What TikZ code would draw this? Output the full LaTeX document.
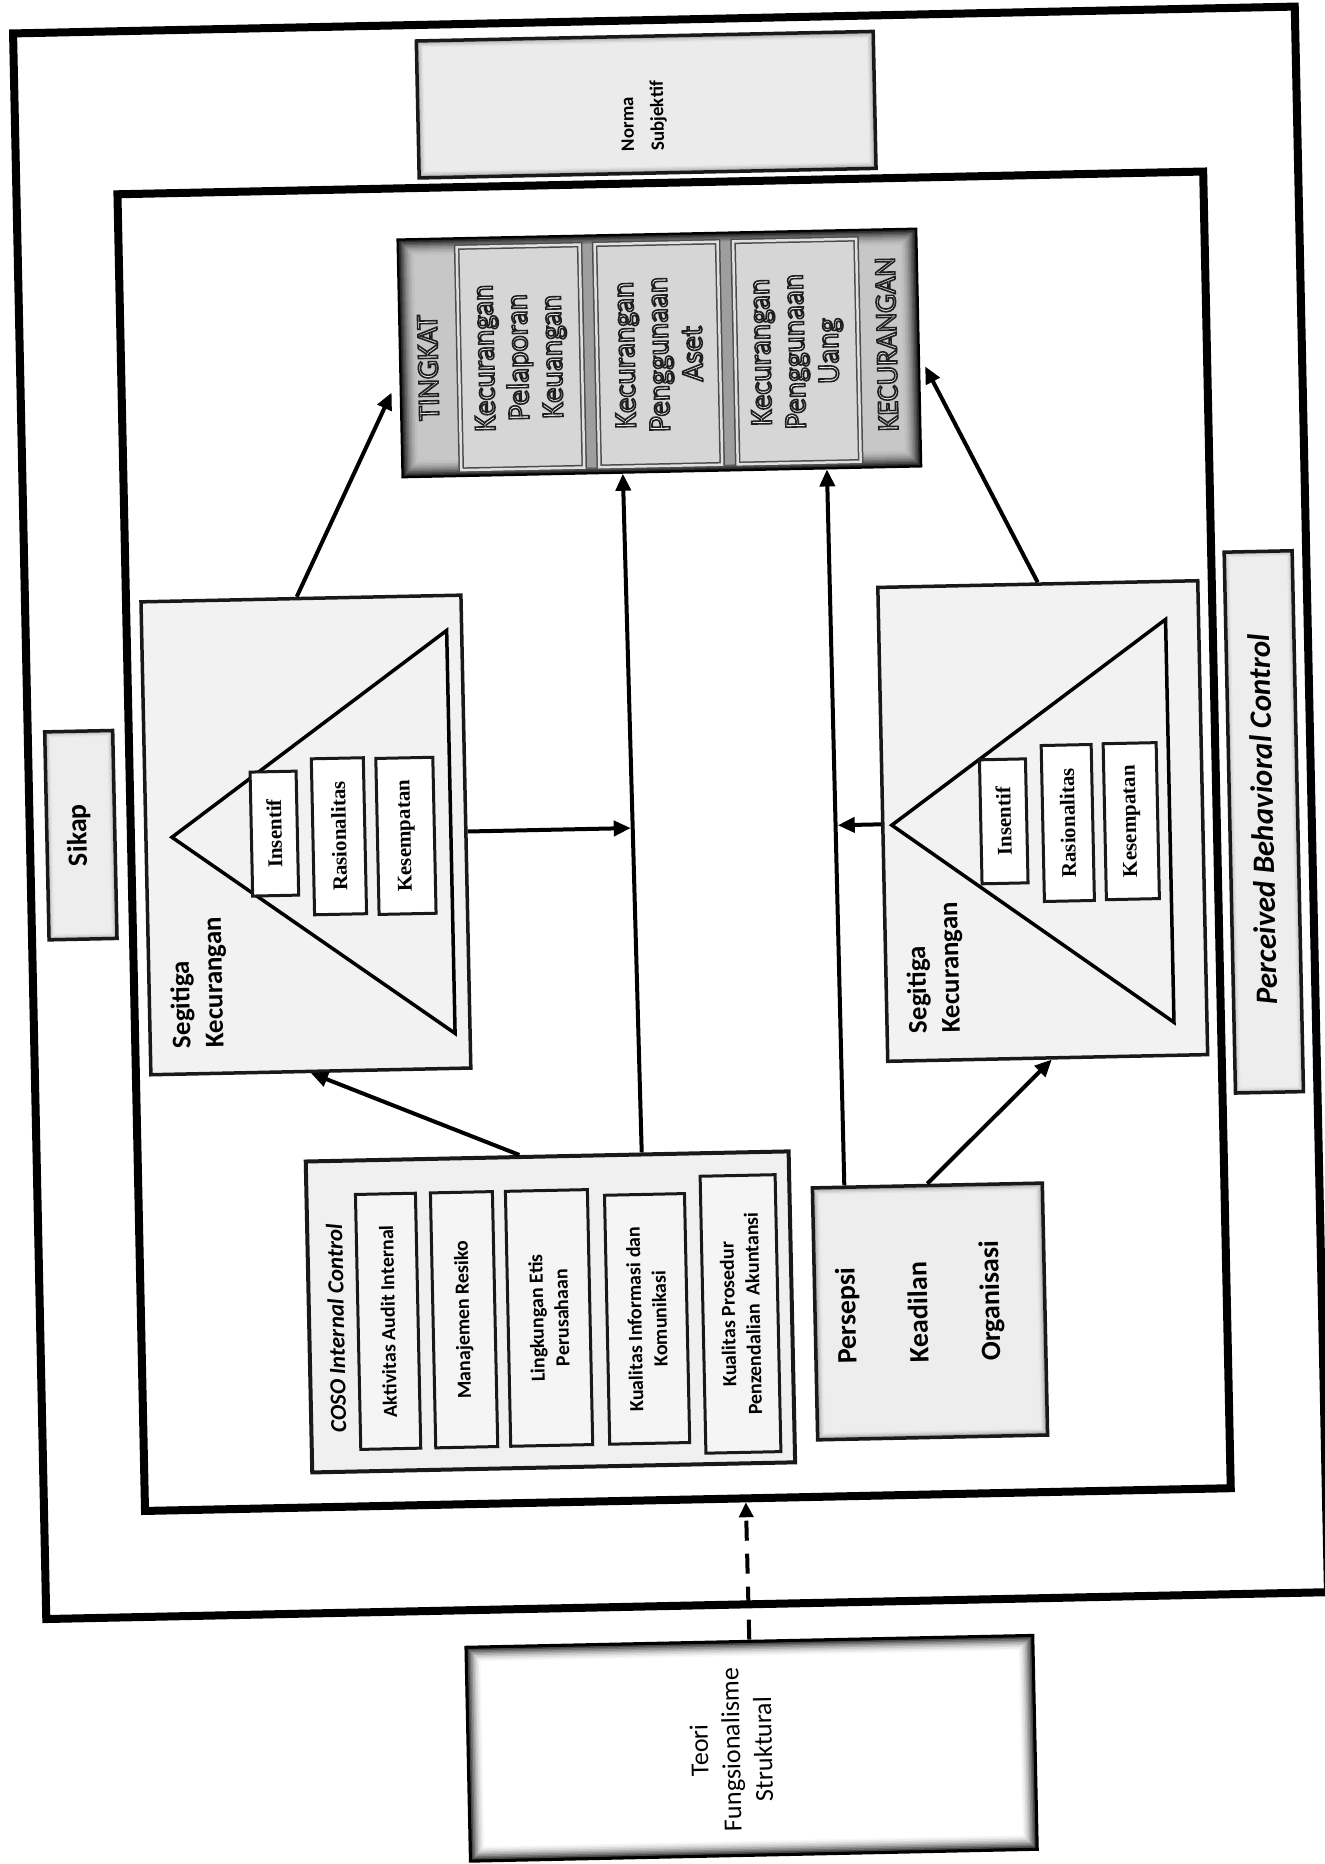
\documentclass[tikz,border=0pt]{standalone}
\usepackage{fontspec}
\setmainfont{Carlito}
\newfontfamily\serifbold{Liberation Serif}
\usetikzlibrary{arrows.meta,calc}

% outlined white lettering: fill and stroke the glyphs
\newcommand\outl[1]{{\special{pdf:literal direct 2 Tr 1.6 w 0.12 G}#1\special{pdf:literal direct 0 Tr 0 G}}}

% soft dark edge fading into the box interior
\newcommand\boxglow[8]{%
  \foreach \gi in {0,...,#5}{%
    \pgfmathtruncatemacro\gc{#8+(#7-#8)*(1-\gi/#5)^2}%
    \pgfmathsetmacro\gd{\gi*#6}%
    \fill[black!\gc] ({#1+\gd},{#2+\gd}) rectangle ({#3-\gd},{#4-\gd});
  }}

\tikzset{
  plainbox/.style={draw=black!90, line width=3.5pt, inner sep=0pt},
  framebox/.style={draw=black, line width=8pt, inner sep=0pt},
  vtext/.style={inner sep=0pt, rotate=90},
  itembox/.style={draw=black!90, line width=3pt, fill=white, inner sep=0pt, rotate=90,
    align=center, font=\serifbold\bfseries\fontsize{21}{25}\selectfont},
  cosoitem/.style={draw=black!90, line width=3pt, fill=black!4, inner sep=0pt, rotate=90,
    align=center, font=\fontsize{20}{25}\selectfont\bfseries},
  fraudbox/.style={draw=black!70, double=black!12, double distance=2.5pt, line width=1.5pt,
    fill=black!16, inner sep=0pt, rotate=90, align=center, text=white,
    font=\fontsize{31}{34}\selectfont},
  tri/.style={draw=black, line width=3.5pt, line join=miter},
  arr/.style={line width=4pt, -{Triangle[length=17pt,width=15pt]}},
  dasharr/.style={line width=4pt, dash pattern=on 20pt off 13pt,
    -{Triangle[length=15pt,width=14pt]}},
}

\begin{document}
\begin{tikzpicture}[x=1pt,y=-1pt]
\useasboundingbox (0,0) rectangle (1325,1864);
\fill[white] (0,0) rectangle (1325,1864);

\begin{scope}[rotate around={1.2:(662,932)}, transform shape]

% ---------- shaded backgrounds ----------
\boxglow{435}{36}{892}{173}{6}{1.3}{40}{8}
\boxglow{49}{719}{117}{927}{5}{1.3}{35}{7}
\boxglow{1232}{564}{1300}{1105}{5}{1.3}{30}{7}
\boxglow{807}{1191}{1037}{1443}{6}{1.3}{45}{7}
\boxglow{451}{1643}{1018}{1857}{10}{1.6}{90}{0}
\boxglow{412}{234}{931}{472}{12}{1.5}{95}{22}
\fill[black!38] (471,243) rectangle (869,466);

% ---------- frames ----------
\node[framebox, minimum width=1282pt, minimum height=1586pt] (outer) at (673,813) {};
\node[framebox, minimum width=1086pt, minimum height=1317pt] (inner) at (676,841.5) {};

% ---------- outer ring of theory boxes ----------
\node[plainbox, minimum width=457pt, minimum height=137pt] (norma) at (663.5,104.5) {};
\node[vtext, align=left, font=\fontsize{19}{30}\selectfont\bfseries] (normaText) at (661,116) {Norma\\Subjektif};

\node[plainbox, minimum width=68pt, minimum height=208pt] (sikap) at (83,823) {};
\node[vtext, font=\fontsize{28}{34}\selectfont\bfseries] (sikapText) at (81,823) {Sikap};

\node[plainbox, minimum width=68pt, minimum height=541pt] (pbc) at (1266,834.5) {};
\node[vtext, font=\fontsize{31}{36}\selectfont\bfseries\itshape] (pbcText) at (1265,832) {Perceived Behavioral Control};

% ---------- fraud level ----------
\node[draw=black, line width=2pt, minimum width=519pt, minimum height=238pt, inner sep=0pt] (tk) at (671.5,353) {};
\node[vtext, text=white, font=\fontsize{30}{34}\selectfont] (tingkat) at (440,363) {\outl{TINGKAT}};
\node[vtext, text=white, font=\fontsize{30}{34}\selectfont] (kecurangan) at (899,349) {\outl{KECURANGAN}};
\node[fraudbox, minimum width=223pt, minimum height=123pt] (f1) at (532.5,354.5)
  {\outl{Kecurangan}\\\outl{Pelaporan}\\\outl{Keuangan}};
\node[fraudbox, minimum width=223pt, minimum height=123pt] (f2) at (670.5,354.5)
  {\outl{Kecurangan}\\\outl{Penggunaan}\\\outl{Aset}};
\node[fraudbox, minimum width=223pt, minimum height=123pt] (f3) at (809,354.5)
  {\outl{Kecurangan}\\\outl{Penggunaan}\\\outl{Uang}};

% ---------- fraud triangles ----------
\node[plainbox, fill=black!5, minimum width=320pt, minimum height=473pt] (lseg) at (308,827.5) {};
\node[plainbox, fill=black!5, minimum width=320pt, minimum height=474pt] (rseg) at (1045,829) {};
\draw[tri] (174,827) -- (453,626) -- (453,1029) -- cycle;
\draw[tri] (894,830) -- (1172,630) -- (1172,1033) -- cycle;

\node[itembox, minimum width=124pt, minimum height=46pt] (lins) at (276.5,825.5) {Insentif};
\node[itembox, minimum width=156pt, minimum height=52pt] (lras) at (341,829.5) {Rasionalitas};
\node[itembox, minimum width=156pt, minimum height=57pt] (lkes) at (408,830.5) {Kesempatan};
\node[itembox, minimum width=124pt, minimum height=46pt] (rins) at (1006,828.5) {Insentif};
\node[itembox, minimum width=156pt, minimum height=50pt] (rras) at (1070,831.5) {Rasionalitas};
\node[itembox, minimum width=156pt, minimum height=53pt] (rkes) at (1133.5,831) {Kesempatan};

\node[vtext, align=left, font=\fontsize{27}{33}\selectfont\bfseries] (lsegText) at (197.5,973) {Segitiga\\Kecurangan};
\node[vtext, align=left, font=\fontsize{27}{33}\selectfont\bfseries] (rsegText) at (934,973.5) {Segitiga\\Kecurangan};

% ---------- COSO internal control ----------
\node[plainbox, line width=4pt, fill=black!6, minimum width=483pt, minimum height=311pt] (coso) at (542.5,1309.5) {};
\node[vtext, font=\fontsize{23}{28}\selectfont\bfseries\itshape] (cosoTitle) at (328,1321.5) {COSO Internal Control};
\node[cosoitem, minimum width=255pt, minimum height=60pt] (c1) at (380,1315.5) {Aktivitas Audit Internal};
\node[cosoitem, minimum width=255pt, minimum height=62pt] (c2) at (456,1315.5) {Manajemen Resiko};
\node[cosoitem, minimum width=255pt, minimum height=82pt] (c3) at (541,1315.5) {Lingkungan Etis\\Perusahaan};
\node[cosoitem, minimum width=249pt, minimum height=80pt] (c4) at (639,1318.5) {Kualitas Informasi dan\\Komunikasi};
\node[cosoitem, minimum width=277pt, minimum height=75pt] (c5) at (732.5,1315.5) {Kualitas Prosedur\\Penzendalian\ \ Akuntansi};

% ---------- organisational justice ----------
\node[plainbox, minimum width=230pt, minimum height=252pt] (pers) at (922,1317) {};
\node[vtext, align=left, font=\fontsize{28}{72}\selectfont\bfseries] (persText) at (912,1307.5) {Persepsi\\Keadilan\\Organisasi};

% ---------- grounding theory ----------
\node[draw=black, line width=3pt, minimum width=567pt, minimum height=214pt, inner sep=0pt] (teori) at (734.5,1750) {};
\node[vtext, align=center, font=\fontsize{26}{32}\selectfont] (teoriText) at (714,1751) {Teori\\Fungsionalisme\\Struktural};

% ---------- connectors ----------
\coordinate (t1) at (403,387);
\coordinate (t2) at (937,372);
\coordinate (j1) at (633,827.5);
\coordinate (j2) at (840,829);

\draw[arr] (lseg.91) -- (t1);
\draw[arr] (rseg.north) -- (t2);
\draw[arr] (coso.100) -- (lseg.south);
\draw[arr] (coso.59.8) -- (tk.252.1);
\draw[arr] (lseg.east) -- (j1);
\draw[arr] (pers.123.1) -- (tk.324.8);
\draw[arr] (rseg.west) -- (j2);
\draw[arr] (pers.north) -- (rseg.271.7);
\draw[dasharr] (teori.north) -- (inner.275.2);

\end{scope}
\end{tikzpicture}
\end{document}
